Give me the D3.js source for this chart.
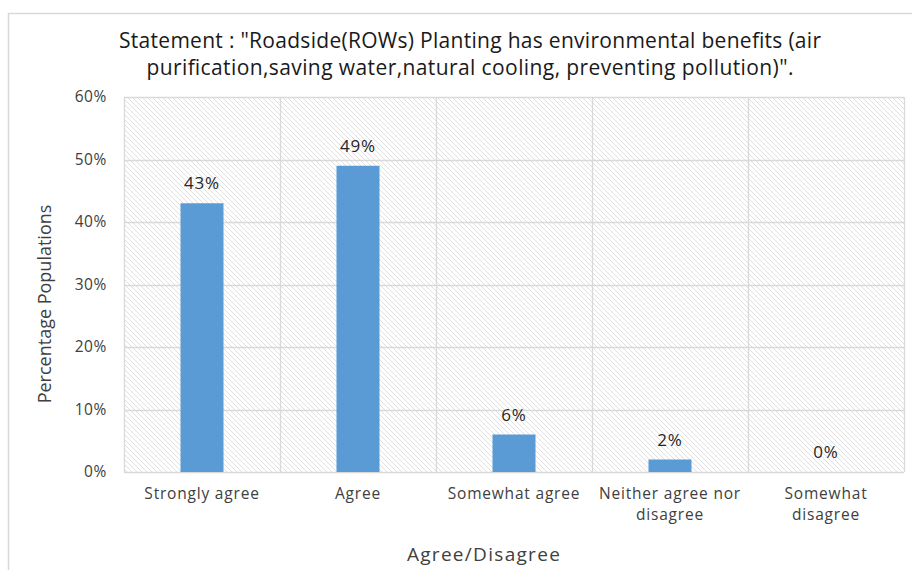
<!DOCTYPE html>
<html>
<head>
<meta charset="utf-8">
<script src="https://cdn.jsdelivr.net/npm/d3@7"></script>
<style>
  html, body { margin: 0; padding: 0; background: #fff; }
  svg { display: block; }
  text { font-family: "Open Sans", "Liberation Sans", sans-serif; }
</style>
</head>
<body>
<svg id="chart" width="912" height="570"></svg>
<script>
// Survey responses, share of respondents
const categories = [
  ["Strongly agree"],
  ["Agree"],
  ["Somewhat agree"],
  ["Neither agree nor", "disagree"],
  ["Somewhat", "disagree"]
];
const shares = [0.43, 0.49, 0.06, 0.02, 0.00];
const yTicks = [0, 0.1, 0.2, 0.3, 0.4, 0.5, 0.6];
const titleLines = [
  "Statement : \"Roadside(ROWs) Planting has environmental benefits (air",
  "purification,saving water,natural cooling, preventing pollution)\"."
];
const xTitle = "Agree/Disagree";
const yTitle = "Percentage Populations";

const svg = d3.select("#chart");
const margin = { left: 124, right: 8, top: 97, bottom: 98 };
const W = 912, H = 570;
const plotW = W - margin.left - margin.right;
const plotH = H - margin.top - margin.bottom;

// outer chart frame
svg.append("rect")
  .attr("x", 8.5).attr("y", 13.5)
  .attr("width", 930).attr("height", 600)
  .attr("fill", "#fff").attr("stroke", "#d9d9d9").attr("stroke-width", 1.5);

// diagonal hatch for the plot background
const defs = svg.append("defs");
const pat = defs.append("pattern")
  .attr("id", "hatch").attr("patternUnits", "userSpaceOnUse")
  .attr("width", 5).attr("height", 5);
pat.append("rect").attr("width", 5).attr("height", 5).attr("fill", "#fff");
pat.append("path")
  .attr("d", "M-1,-1 L6,6 M-3,2 L3,8 M2,-3 L8,3")
  .attr("stroke", "#e0e0e0").attr("stroke-width", 1);

const x = d3.scaleBand()
  .domain(d3.range(categories.length))
  .range([margin.left, margin.left + plotW])
  .paddingInner(0).paddingOuter(0);
const y = d3.scaleLinear().domain([0, 0.6]).range([margin.top + plotH, margin.top]);

svg.append("rect")
  .attr("x", margin.left).attr("y", margin.top)
  .attr("width", plotW).attr("height", plotH)
  .attr("fill", "url(#hatch)");

// horizontal gridlines
svg.append("g").selectAll("line").data(yTicks).join("line")
  .attr("x1", margin.left).attr("x2", margin.left + plotW)
  .attr("y1", d => Math.round(y(d)) + 0.5).attr("y2", d => Math.round(y(d)) + 0.5)
  .attr("stroke", "#d9d9d9").attr("stroke-width", 1.3);

// vertical category separators
const bounds = d3.range(categories.length + 1).map(i => margin.left + i * x.bandwidth());
svg.append("g").selectAll("line").data(bounds).join("line")
  .attr("x1", d => Math.round(d) + 0.5).attr("x2", d => Math.round(d) + 0.5)
  .attr("y1", margin.top).attr("y2", margin.top + plotH)
  .attr("stroke", "#d9d9d9").attr("stroke-width", 1.3);

// y axis labels
const yAxis = d3.axisLeft(y).tickValues(yTicks).tickFormat(d3.format(".0%")).tickSize(0).tickPadding(17);
const gy = svg.append("g").attr("transform", `translate(${margin.left},0)`).call(yAxis);
gy.select(".domain").remove();
gy.selectAll("text").attr("font-size", 15.5).attr("fill", "#404040")
  .attr("letter-spacing", 0.6)
  .attr("font-family", "\"Open Sans\", sans-serif");

// bars
const barW = 43;
svg.append("g").selectAll("rect").data(shares).join("rect")
  .attr("x", (d, i) => x(i) + x.bandwidth() / 2 - barW / 2)
  .attr("y", d => y(d))
  .attr("width", barW)
  .attr("height", d => y(0) - y(d))
  .attr("fill", "#5b9bd5");

// value labels
svg.append("g").selectAll("text").data(shares).join("text")
  .attr("x", (d, i) => x(i) + x.bandwidth() / 2)
  .attr("y", d => y(d) - 14)
  .attr("text-anchor", "middle")
  .attr("font-size", 17).attr("letter-spacing", 0.8).attr("fill", "#262626")
  .text(d => d3.format(".0%")(d));

// category labels
const xl = svg.append("g").selectAll("text").data(categories).join("text")
  .attr("x", (d, i) => x(i) + x.bandwidth() / 2)
  .attr("y", 499)
  .attr("text-anchor", "middle")
  .attr("font-size", 15.5).attr("letter-spacing", 0.8).attr("fill", "#404040");
xl.selectAll("tspan").data(d => d).join("tspan")
  .attr("x", function () { return d3.select(this.parentNode).attr("x"); })
  .attr("dy", (d, i) => i === 0 ? 0 : 21)
  .text(d => d);

// axis titles
svg.append("text")
  .attr("x", 484).attr("y", 561)
  .attr("text-anchor", "middle").attr("font-size", 19).attr("letter-spacing", 1.3).attr("fill", "#404040")
  .text(xTitle);
svg.append("text")
  .attr("transform", "translate(51,304) rotate(-90)")
  .attr("text-anchor", "middle").attr("font-size", 18).attr("fill", "#404040")
  .text(yTitle);

// chart title
const tLens = [702, 647];
svg.append("g").selectAll("text").data(titleLines).join("text")
  .attr("x", 470)
  .attr("y", (d, i) => 48 + i * 27)
  .attr("text-anchor", "middle")
  .attr("font-size", 21).attr("fill", "#1a1a1a")
  .attr("textLength", (d, i) => tLens[i]).attr("lengthAdjust", "spacing")
  .text(d => d);
</script>
</body>
</html>
